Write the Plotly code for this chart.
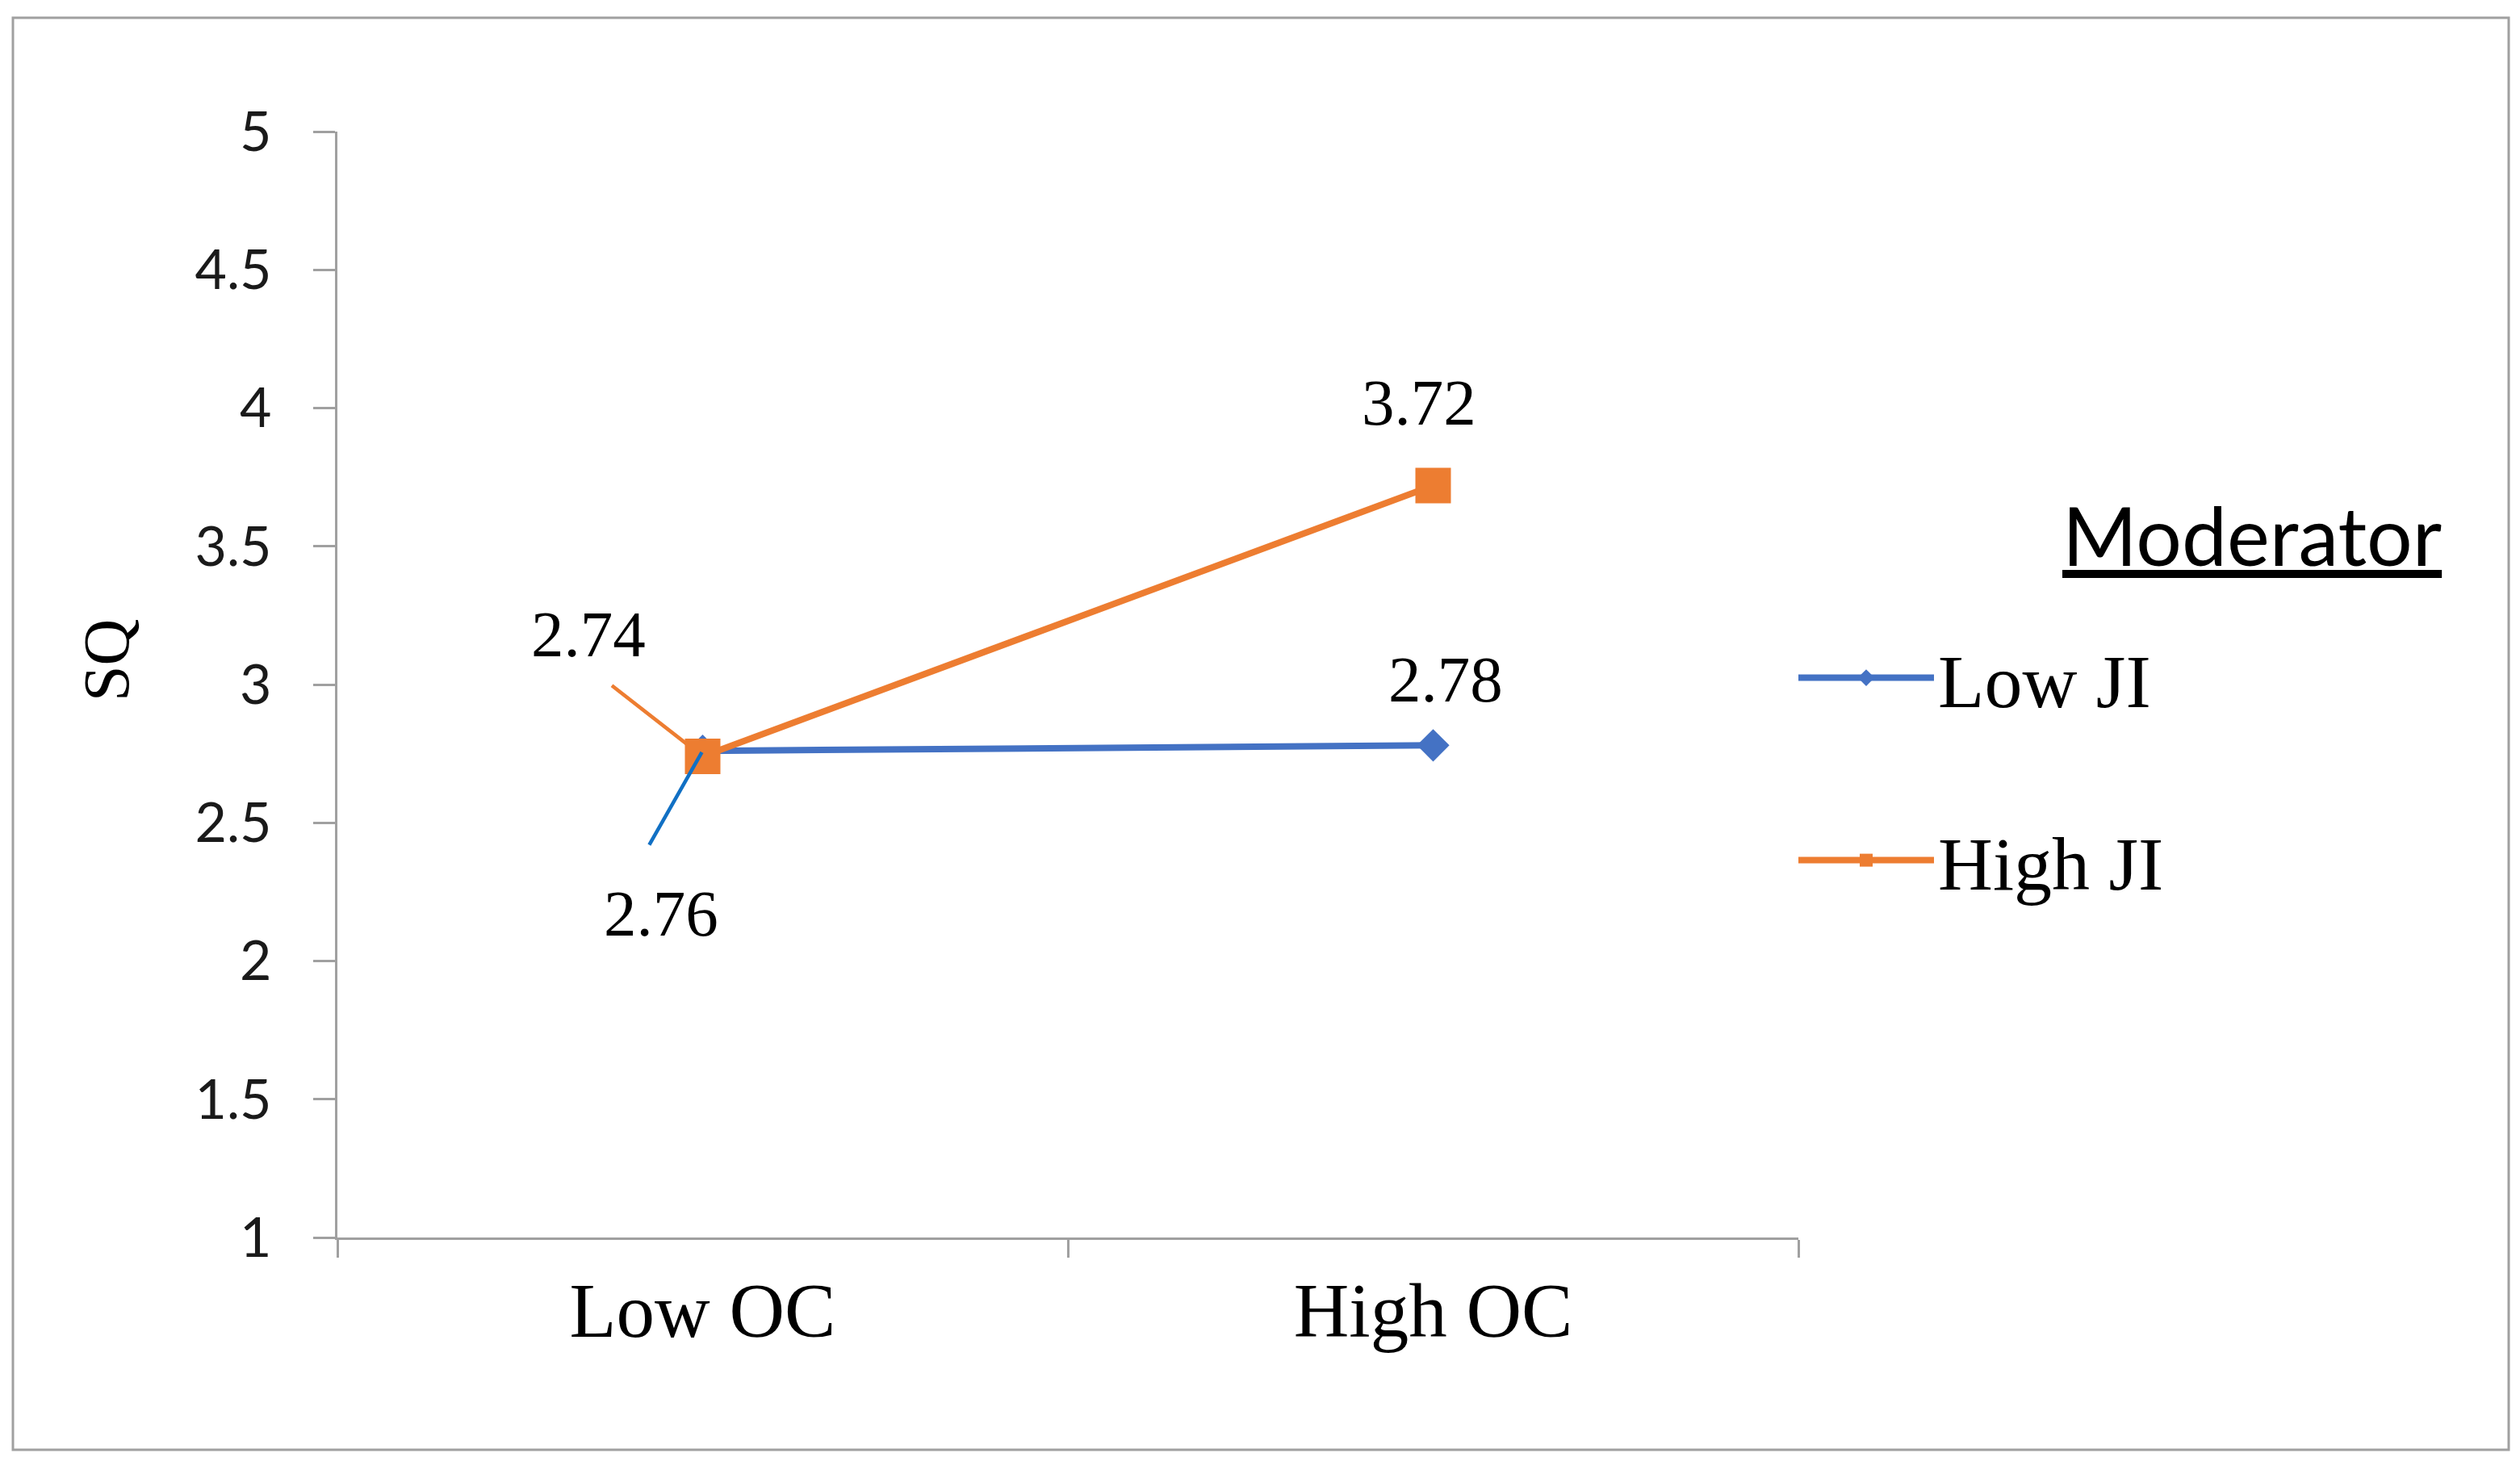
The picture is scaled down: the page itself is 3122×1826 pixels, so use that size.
import plotly.graph_objects as go

# ---- data ----
categories = ["Low OC", "High OC"]
series_names = ["Low JI", "High JI"]
low_ji = [2.76, 2.78]
high_ji = [2.74, 3.72]
y_tick_values = [1, 1.5, 2, 2.5, 3, 3.5, 4, 4.5, 5]
y_title = "SQ"
legend_title = "Moderator"

# ---- styles ----
BLUE = "#4472C4"
ORANGE = "#ED7D31"
AXIS_GRAY = "#a0a0a0"
SERIF = "Liberation Serif, Times New Roman, serif"
SANS = "Lato, Carlito, Calibri, sans-serif"

# page has an 8px body margin; figure sized to fit the window
W, H = 3106, 1810
PL, PR, PT, PB = 418, 2228, 163, 1533          # plot area in screen px
OFF = 8
L, T = PL - OFF, PT - OFF
R, B = W - (PR - OFF), H - (PB - OFF)


def px(sx):
    return (sx - PL) / (PR - PL)


def py(sy):
    return (PB - sy) / (PB - PT)


fig = go.Figure()
fig.add_trace(go.Scatter(
    x=categories, y=low_ji, name=series_names[0], mode="lines+markers",
    line=dict(color=BLUE, width=8),
    marker=dict(symbol="diamond", size=31, color=BLUE),
    legend="legend", cliponaxis=False, hoverinfo="x+y+name"))
fig.add_trace(go.Scatter(
    x=categories, y=high_ji, name=series_names[1], mode="lines+markers",
    line=dict(color=ORANGE, width=8),
    marker=dict(symbol="square", size=44, color=ORANGE),
    legend="legend2", cliponaxis=False, hoverinfo="x+y+name"))

# data labels (offsets in px relative to each point)
label_style = {
    ("Low JI", "Low OC"): dict(xshift=-52, yshift=-202, leader=dict(ax=-67, ay=118, standoff=2, color="#1170C4")),
    ("Low JI", "High OC"): dict(xshift=15, yshift=81, leader=None),
    ("High JI", "Low OC"): dict(xshift=-142, yshift=151, leader=dict(ax=-114, ay=-89, standoff=23, color=ORANGE)),
    ("High JI", "High OC"): dict(xshift=-18, yshift=102, leader=None),
}
for name, vals in zip(series_names, [low_ji, high_ji]):
    for cat, v in zip(categories, vals):
        st = label_style[(name, cat)]
        fig.add_annotation(x=cat, y=v, xref="x", yref="y", text=f"{v:.2f}",
                           showarrow=False, xshift=st["xshift"], yshift=st["yshift"],
                           font=dict(family=SERIF, size=81, color="black"))
        ld = st["leader"]
        if ld:
            fig.add_annotation(x=cat, y=v, xref="x", yref="y", text="",
                               showarrow=True, arrowhead=0, arrowwidth=4.5,
                               arrowcolor=ld["color"], ax=ld["ax"], ay=ld["ay"],
                               standoff=ld["standoff"])

# y axis title
fig.add_annotation(x=px(132), y=py(818), xref="paper", yref="paper", text=y_title,
                   showarrow=False, textangle=-90, xanchor="center", yanchor="middle",
                   font=dict(family=SERIF, size=80, color="black"))

# legend title (underlined)
fig.add_annotation(x=px(2790), y=py(662), xref="paper", yref="paper",
                   text=f"<u>{legend_title}</u>",
                   showarrow=False, xanchor="center", yanchor="middle",
                   font=dict(family=SANS, size=100, color="black"))

# outer frame
fig.add_shape(type="rect", xref="paper", yref="paper",
              x0=px(16), x1=px(3108), y0=py(1796), y1=py(22),
              line=dict(color=AXIS_GRAY, width=3), fillcolor="rgba(0,0,0,0)", layer="below")

legend_common = dict(xanchor="left", yanchor="middle", itemwidth=168,
                     font=dict(family=SERIF, size=94, color="black"),
                     bgcolor="rgba(0,0,0,0)", borderwidth=0)
lx = px(2223)

fig.update_layout(
    width=W, height=H,
    margin=dict(l=L, r=R, t=T, b=B, autoexpand=False),
    paper_bgcolor="white", plot_bgcolor="white",
    showlegend=True,
    legend=dict(x=lx, y=py(840), **legend_common),
    legend2=dict(x=lx, y=py(1066), **legend_common),
    xaxis=dict(type="category", range=[-0.5, 1.5], tickson="boundaries",
               ticks="outside", ticklen=22, tickwidth=3, tickcolor=AXIS_GRAY,
               showline=True, linecolor=AXIS_GRAY, linewidth=3,
               showgrid=False, zeroline=False, ticklabelstandoff=6,
               tickfont=dict(family=SERIF, size=95, color="black")),
    yaxis=dict(range=[1, 5], tickmode="array", tickvals=y_tick_values,
               ticks="outside", ticklen=27, tickwidth=3, tickcolor=AXIS_GRAY,
               showline=True, linecolor=AXIS_GRAY, linewidth=3,
               showgrid=False, zeroline=False, ticklabelstandoff=38,
               tickfont=dict(family=SANS, size=68, color="#1a1a1a")),
)

fig.write_html("out.html")
